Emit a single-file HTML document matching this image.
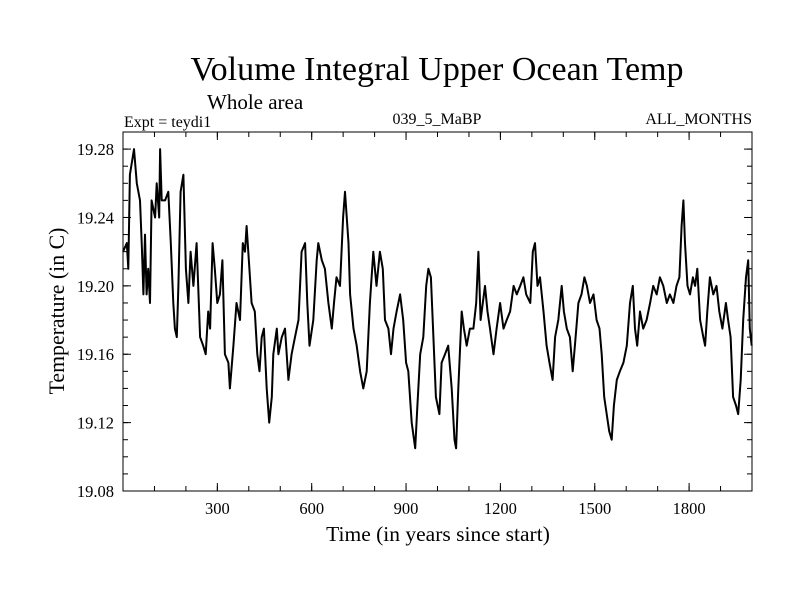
<!DOCTYPE html>
<html><head><meta charset="utf-8"><style>
body{margin:0;background:#fff}
text{font-family:"Liberation Serif",serif;fill:#000}
</style></head><body>
<svg id="chart" width="800" height="600" xmlns="http://www.w3.org/2000/svg">
<text x="437" y="80" font-size="34" text-anchor="middle">Volume Integral Upper Ocean Temp</text>
<text x="207" y="109" font-size="21">Whole area</text>
<text x="124" y="127" font-size="16">Expt = teydi1</text>
<text x="437" y="124" font-size="16" text-anchor="middle">039_5_MaBP</text>
<text x="752" y="124" font-size="16" text-anchor="end">ALL_MONTHS</text>
<text x="438" y="541" font-size="21.5" text-anchor="middle">Time (in years since start)</text>
<text transform="translate(64,311) rotate(-90)" font-size="21.8" text-anchor="middle">Temperature (in C)</text>
<g id="axes"></g>
<path id="series" fill="none" stroke="#000" stroke-width="2" stroke-linejoin="round"></path>
<rect x="123" y="132" width="629" height="359" fill="none" stroke="#000" stroke-width="1"></rect>
</svg>
<script>
const years=[0,12,17,22,35,44,54,60,65,70,75,80,86,91,102,107,115,118,123,134,144,152,160,165,171,176,183,192,200,208,215,224,234,245,255,263,271,277,285,292,300,308,316,324,335,340,351,361,372,381,388,393,402,409,419,427,434,441,448,457,465,473,478,489,494,505,515,526,536,547,558,568,579,586,593,605,616,621,632,642,653,664,671,679,690,700,706,717,722,733,743,754,764,775,785,796,806,817,826,833,844,852,860,870,881,891,900,907,918,929,936,945,955,964,971,979,987,995,1006,1013,1024,1034,1045,1054,1059,1066,1077,1084,1093,1103,1114,1123,1130,1137,1151,1159,1167,1178,1188,1199,1210,1220,1231,1242,1252,1263,1273,1282,1295,1303,1310,1318,1326,1337,1347,1356,1366,1374,1384,1395,1402,1411,1421,1430,1437,1448,1458,1467,1475,1485,1496,1506,1515,1522,1530,1538,1546,1554,1561,1570,1580,1591,1602,1612,1621,1628,1635,1644,1654,1665,1676,1686,1697,1707,1718,1729,1739,1750,1760,1769,1776,1782,1787,1795,1803,1812,1819,1826,1835,1845,1851,1858,1866,1877,1887,1896,1906,1917,1924,1932,1940,1949,1956,1964,1972,1981,1988,1993,1999];
const temps=[19.22,19.225,19.21,19.265,19.28,19.26,19.25,19.222,19.195,19.23,19.195,19.21,19.19,19.25,19.24,19.26,19.24,19.28,19.25,19.25,19.255,19.225,19.19,19.175,19.17,19.2,19.255,19.265,19.21,19.19,19.22,19.2,19.225,19.17,19.165,19.16,19.185,19.175,19.225,19.21,19.19,19.195,19.215,19.16,19.155,19.14,19.165,19.19,19.18,19.225,19.22,19.235,19.21,19.19,19.185,19.16,19.15,19.17,19.175,19.14,19.12,19.135,19.16,19.175,19.16,19.17,19.175,19.145,19.16,19.17,19.18,19.22,19.225,19.19,19.165,19.18,19.215,19.225,19.215,19.21,19.19,19.175,19.19,19.205,19.2,19.24,19.255,19.225,19.195,19.175,19.165,19.15,19.14,19.15,19.19,19.22,19.2,19.22,19.21,19.18,19.175,19.16,19.175,19.185,19.195,19.18,19.155,19.15,19.12,19.105,19.13,19.16,19.17,19.2,19.21,19.205,19.17,19.135,19.125,19.155,19.16,19.165,19.14,19.11,19.105,19.14,19.185,19.175,19.165,19.175,19.175,19.19,19.22,19.18,19.2,19.185,19.175,19.16,19.175,19.19,19.175,19.18,19.185,19.2,19.195,19.2,19.205,19.195,19.19,19.22,19.225,19.2,19.205,19.185,19.165,19.155,19.145,19.17,19.18,19.2,19.185,19.175,19.17,19.15,19.165,19.19,19.195,19.205,19.2,19.19,19.195,19.18,19.175,19.16,19.135,19.125,19.115,19.11,19.13,19.145,19.15,19.155,19.165,19.19,19.2,19.175,19.165,19.185,19.175,19.18,19.19,19.2,19.195,19.205,19.2,19.19,19.195,19.19,19.2,19.205,19.235,19.25,19.225,19.2,19.195,19.205,19.2,19.21,19.18,19.17,19.165,19.185,19.205,19.195,19.2,19.185,19.175,19.19,19.18,19.17,19.135,19.13,19.125,19.145,19.18,19.205,19.215,19.175,19.165];
const yTicks=[19.08,19.12,19.16,19.20,19.24,19.28];
const xTicks=[300,600,900,1200,1500,1800];
const L=123,R=752,T=132,B=491,X0=0,X1=2000,Y0=19.08,Y1=19.29;
const sx=v=>L+(v-X0)/(X1-X0)*(R-L);
const sy=v=>B-(v-Y0)/(Y1-Y0)*(B-T);
const NS="http://www.w3.org/2000/svg";
const axes=document.getElementById('axes');
function ln(x1,y1,x2,y2){const l=document.createElementNS(NS,'line');l.setAttribute('x1',x1);l.setAttribute('y1',y1);l.setAttribute('x2',x2);l.setAttribute('y2',y2);l.setAttribute('stroke','#000');


axes.appendChild(l);}
function tx(x,y,s,anchor,name){const t=document.createElementNS(NS,'text');t.setAttribute('x',x);t.setAttribute('y',y);t.setAttribute('font-size','16.5');t.setAttribute('text-anchor',anchor);t.textContent=s;


axes.appendChild(t);}
for(let v=Y0;v<=19.29+1e-9;v+=0.01){const y=sy(v);ln(L,y,L+5,y);ln(R,y,R-5,y);}
yTicks.forEach(v=>{const y=sy(v);ln(L,y,L+8,y);ln(R,y,R-8,y);tx(114,y+6,v.toFixed(2),'end','y-tick-label');});
for(let v=100;v<X1;v+=100){const x=sx(v);ln(x,B,x,B-5);ln(x,T,x,T+5);}
xTicks.forEach(v=>{const x=sx(v);ln(x,B,x,B-8);ln(x,T,x,T+8);tx(x,514,String(v),'middle','x-tick-label');});
document.getElementById('series').setAttribute('d',years.map((y,i)=>(i?'L':'M')+sx(y).toFixed(1)+','+sy(temps[i]).toFixed(1)).join(''));
</script>
</body></html>
